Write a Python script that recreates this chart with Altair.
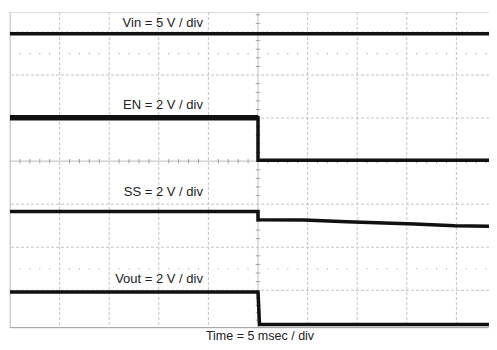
import altair as alt
import pandas as pd

# ---- data (time and voltage in scope divisions) ----
vin_t = [-5.0, 4.66]
vin_v = [2.96, 2.96]
en_t = [-5.0, 0.0, 0.0, 4.66]
en_v = [1.01, 1.01, 0.02, 0.02]
ss_t = [-5.0, 0.0, 0.0, 0.93, 1.79, 3.15, 3.97, 4.66]
ss_v = [-1.17, -1.17, -1.36, -1.37, -1.41, -1.46, -1.50, -1.51]
vout_t = [-5.0, 0.0, 0.03, 4.66]
vout_v = [-3.04, -3.04, -3.92, -3.92]

labels = ["Vin = 5 V / div", "EN = 2 V / div", "SS = 2 V / div", "Vout = 2 V / div"]
label_t = [-1.11, -1.11, -1.11, -1.11]
label_v = [3.11, 1.22, -0.81, -2.83]
x_title = "Time = 5 msec / div"

grid_x = [-4, -3, -2, -1, 1, 2, 3, 4]
grid_y = [-3, -2, -1, 1, 2, 3]
dotted_y = [2.5, -2.5]

X_DOM = [-5.0, 4.657]
Y_DOM = [-4.0, -3.04, 3.465]
Y_RANGE = [315.5, 280, 0]

# ---- tables ----
rows = []
for name, ts, vs in [("Vin", vin_t, vin_v), ("EN", en_t, en_v),
                     ("SS", ss_t, ss_v), ("Vout", vout_t, vout_v)]:
    for i, (t, v) in enumerate(zip(ts, vs)):
        rows.append({"name": name, "i": i, "t": t, "v": v})
traces = pd.DataFrame(rows)
en_high = traces[(traces.name == "EN") & (traces.t <= 0) & (traces.v > 0.5)]

lab_df = pd.DataFrame({"label": labels, "t": label_t, "v": label_v})

minor = [round(-5 + 0.2 * k, 2) for k in range(0, 49)]
minor_x = [m for m in minor if abs(m - round(m)) > 1e-6]
minor_yv = [round(-4 + 0.2 * k, 2) for k in range(0, 38)]
minor_y = [m for m in minor_yv if abs(m - round(m)) > 1e-6]

xs = alt.Scale(domain=X_DOM, nice=False, zero=False)
ys = alt.Scale(domain=Y_DOM, range=Y_RANGE, nice=False, zero=False)

def X(f):
    return alt.X(f, type="quantitative", scale=xs, axis=None)

def Y(f):
    return alt.Y(f, type="quantitative", scale=ys, axis=None)

GRID = "#c4c4c4"

vgrid = alt.Chart(pd.DataFrame({"t": grid_x})).mark_rule(
    color=GRID, strokeWidth=1, strokeDash=[3, 2]).encode(x=X("t"))
hgrid = alt.Chart(pd.DataFrame({"v": grid_y})).mark_rule(
    color=GRID, strokeWidth=1, strokeDash=[3, 2]).encode(y=Y("v"))

center_v = alt.Chart(pd.DataFrame({"t": [0]})).mark_rule(
    color="#bdbdbd", strokeWidth=1).encode(x=X("t"))
center_h = alt.Chart(pd.DataFrame({"v": [0]})).mark_rule(
    color="#bdbdbd", strokeWidth=1).encode(y=Y("v"))
left_b = alt.Chart(pd.DataFrame({"t": [X_DOM[0]]})).mark_rule(
    color="#c8c8c8", strokeWidth=1).encode(x=X("t"))
bottom_b = alt.Chart(pd.DataFrame({"v": [Y_DOM[0]]})).mark_rule(
    color="#a8a8a8", strokeWidth=1).encode(y=Y("v"))

hticks = alt.Chart(pd.DataFrame({"t": minor_x, "a": -0.05, "b": 0.05})).mark_rule(
    color="#a0a0a0", strokeWidth=1).encode(x=X("t"), y=Y("a"), y2="b")
vticks = alt.Chart(pd.DataFrame({"v": minor_y, "a": -0.045, "b": 0.045})).mark_rule(
    color="#a0a0a0", strokeWidth=1).encode(y=Y("v"), x=X("a"), x2="b")

dots_rows = [{"t": m, "v": d} for d in dotted_y for m in minor_x]
dots = alt.Chart(pd.DataFrame(dots_rows)).mark_square(
    size=1.5, color="#b0b0b0", opacity=1).encode(x=X("t"), y=Y("v"))

lines = alt.Chart(traces).mark_line(color="#111111", strokeWidth=3.5).encode(
    x=X("t"), y=Y("v"), detail="name:N", order="i:Q")
en_thick = alt.Chart(en_high).mark_line(color="#111111", strokeWidth=5.5).encode(
    x=X("t"), y=Y("v"), order="i:Q")

texts = alt.Chart(lab_df).mark_text(
    align="right", baseline="alphabetic", font="Liberation Sans",
    fontSize=13, color="#222222").encode(x=X("t"), y=Y("v"), text="label:N")

xtitle = alt.Chart(pd.DataFrame({"s": [x_title]})).mark_text(
    align="center", baseline="alphabetic", font="Liberation Sans",
    fontSize=12.5, color="#222222").encode(
    x=alt.value(250), y=alt.value(327.5), text="s:N")

chart = alt.layer(
    vgrid, hgrid, dots, center_v, center_h, left_b, bottom_b, hticks, vticks,
    lines, en_thick, texts, xtitle
).properties(
    width=479, height=315.5,
    padding={"left": 2, "top": 4, "right": 0, "bottom": 14.5},
    autosize=alt.AutoSizeParams(type="none"),
).configure_view(strokeWidth=0).configure(background="white")

chart.save("out.html", embed_options={"renderer": "svg", "actions": False})
